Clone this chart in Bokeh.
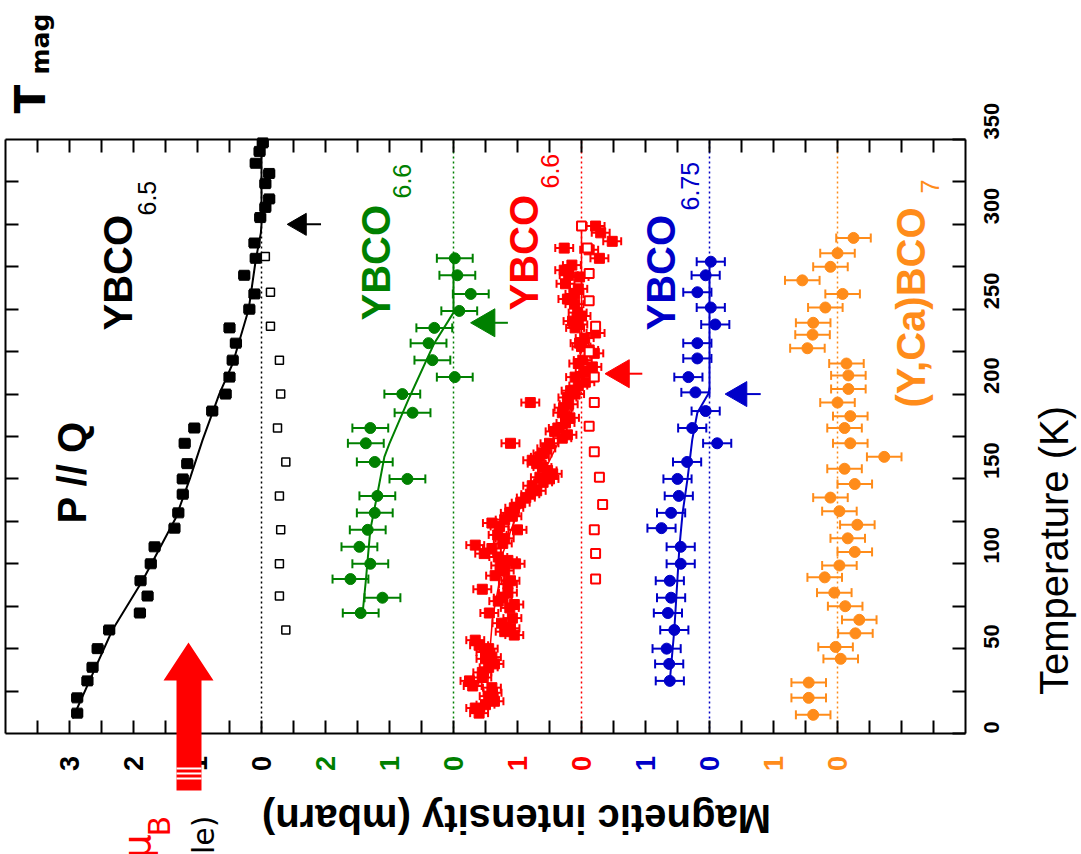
import numpy as np
from math import pi
from bokeh.plotting import figure
from bokeh.models import (Range1d, LinearAxis, FixedTicker, Label, PolyAnnotation)
from bokeh.core.properties import value
from bokeh.embed import file_html
from bokeh.resources import INLINE

# ---------------- data ----------------
# offsets (mbarn) of each data set's zero line
off_black, off_green, off_red, off_blue, off_orange = 0.0, -3.0, -5.0, -7.0, -9.0

# YBCO6.5 (black, filled squares)
b_T = [12, 21, 31, 39, 50, 61, 71, 81, 90, 100, 110, 121, 130, 141, 150, 159, 171, 180, 190, 200,
       210, 220, 230, 239, 250, 259, 270, 280, 289, 304, 310, 315, 324, 330, 336, 343, 348]
b_I = [2.88, 2.88, 2.72, 2.64, 2.56, 2.38, 1.90, 1.78, 1.89, 1.73, 1.67, 1.36, 1.30, 1.23, 1.23, 1.16,
       1.20, 1.05, 0.77, 0.56, 0.50, 0.45, 0.40, 0.50, 0.19, 0.11, 0.27, 0.09, 0.11, 0.02, -0.06, -0.12,
       -0.06, -0.12, 0.09, 0.03, -0.02]
b_err = 0.08
# YBCO6.5 open squares
bo_T = [61, 81, 100, 120, 140, 160, 180, 200, 220, 240, 260, 281]
bo_I = [-0.38, -0.28, -0.28, -0.30, -0.28, -0.38, -0.25, -0.30, -0.28, -0.14, -0.14, -0.06]
# YBCO6.5 fit
bf_T = [9, 35, 61, 90, 127, 150, 173, 200, 218, 250, 279, 295, 300, 350]
bf_I = [2.95, 2.64, 2.33, 1.86, 1.34, 1.12, 0.92, 0.66, 0.45, 0.20, 0.09, 0.01, 0.0, 0.0]

# YBCO6.6 (green)
g_T = [71, 80, 91, 100, 110, 120, 130, 140, 150, 160, 171, 180, 189, 200, 210, 220, 230, 239, 249, 259, 270, 280]
g_I = [1.45, 1.11, 1.61, 1.30, 1.47, 1.34, 1.23, 1.19, 0.72, 1.23, 1.37, 1.30, 0.64, 0.80, -0.02, 0.33,
       0.39, 0.30, -0.09, -0.27, -0.06, -0.02]
g_err = 0.28
gf_T = [71, 90, 120, 141, 163, 171, 198, 230, 248, 280]
gf_I = [1.42, 1.37, 1.30, 1.19, 1.08, 1.00, 0.69, 0.30, 0.0, 0.0]

# YBCO6.6 (red, filled squares)
r_T = [299, 295, 290, 286, 285, 280, 276, 273, 270, 269, 265, 262, 259, 256, 253, 248, 246, 243, 241, 239,
       236, 233, 230, 228, 226, 224, 220, 218, 216, 213, 210, 207, 205, 202, 200, 198, 195, 194, 192, 189,
       186, 183, 180, 178, 176, 174, 171, 171, 168, 165, 163, 161, 159, 157, 155, 153, 151, 150, 148, 146,
       143, 141, 139, 136, 133, 130, 128, 126, 124, 122, 120, 117, 115, 112, 111, 109, 106, 104, 102, 100,
       99, 96, 93, 90, 88, 85, 83, 80, 78, 76, 74, 71, 68, 65, 62, 60, 58, 55, 52, 50, 48, 45, 44, 41, 39,
       36, 33, 31, 28, 27, 24, 22, 19, 17, 15, 12]
r_I = [-0.22, -0.30, -0.48, 0.27, -0.12, -0.28, 0.15, 0.27, 0.20, 0.03, 0.25, 0.05, 0.11, 0.22, 0.11,
       0.06, 0.00, 0.14, 0.05, 0.10, -0.22, -0.05, 0.03, 0.00, -0.12, -0.20, -0.02, 0.05, -0.17, -0.05,
       0.10, -0.06, 0.05, 0.17, 0.10, 0.22, 0.80, 0.20, 0.28, 0.30, 0.18, 0.25, 0.37, 0.42, 0.22, 0.30,
       1.11, 0.50, 0.55, 0.61, 0.65, 0.77, 0.70, 0.61, 0.53, 0.45, 0.65, 0.50, 0.60, 0.77, 0.70, 0.80,
       0.87, 0.95, 1.05, 1.12, 1.08, 1.20, 1.40, 1.28, 1.00, 1.31, 1.20, 1.23, 1.66, 1.40, 1.52, 1.30,
       1.15, 1.03, 1.27, 1.20, 1.35, 1.11, 1.15, 1.55, 1.15, 1.23, 1.30, 1.05, 1.12, 1.44, 1.08, 1.25,
       1.11, 1.20, 1.05, 1.66, 1.60, 1.45, 1.50, 1.40, 1.50, 1.36, 1.45, 1.55, 1.55, 1.75, 1.70, 1.40,
       1.39, 1.45, 1.36, 1.50, 1.66, 1.60]
r_err = 0.14
# red open squares
ro_T = [91, 106, 120, 135, 151, 166, 181, 195, 210, 225, 240, 255, 271, 286, 299]
ro_I = [-0.22, -0.22, -0.20, -0.33, -0.28, -0.20, -0.12, -0.20, -0.20, -0.12, -0.22, -0.12, -0.12, -0.09, 0.0]
rf_T = [15, 40, 68, 90, 106, 120, 130, 143, 157, 170, 189, 210, 230, 300]
rf_I = [1.48, 1.45, 1.39, 1.28, 1.23, 1.10, 1.00, 0.80, 0.55, 0.38, 0.19, 0.05, 0.0, 0.0]

# YBCO6.75 (blue)
u_T = [31, 41, 50, 61, 71, 80, 90, 100, 110, 121, 130, 140, 150, 160, 171, 180, 190, 201, 210, 221,
       230, 241, 251, 260, 270, 278]
u_I = [0.62, 0.63, 0.67, 0.55, 0.65, 0.60, 0.62, 0.45, 0.45, 0.75, 0.60, 0.48, 0.50, 0.35, -0.12, 0.27,
       0.06, 0.22, 0.33, 0.19, 0.19, -0.09, -0.02, 0.19, 0.06, -0.02]
u_err = 0.22
uf_T = [31, 61, 110, 130, 151, 173, 189, 200, 203, 280]
uf_I = [0.62, 0.55, 0.47, 0.42, 0.34, 0.27, 0.19, 0.02, 0.0, 0.0]

# (Y,Ca)BCO7 (orange)
o_T = [11, 21, 30, 44, 51, 59, 67, 75, 83, 92, 99, 107, 115, 123, 131, 139, 147, 156, 163, 171, 180,
       187, 195, 203, 211, 218, 227, 235, 242, 251, 259, 267, 275, 283, 292]
o_I = [0.38, 0.45, 0.45, -0.05, 0.03, -0.28, -0.34, -0.12, 0.05, 0.20, -0.03, -0.27, -0.16, -0.31,
       -0.03, 0.11, -0.27, -0.11, -0.73, -0.20, -0.11, -0.20, 0.00, -0.17, -0.17, -0.14, 0.47, 0.39,
       0.38, 0.19, -0.08, 0.55, 0.11, 0.00, -0.25]
o_err = 0.27

# T_mag markers (black, green, red, blue)
tm_T = [300, 242, 212, 200]
tm_I = [-0.60, -0.52, -0.62, -0.47]
tm_off = [off_black, off_green, off_red, off_blue]

# axis ticks / labels
T_ticks = [0, 50, 100, 150, 200, 250, 300, 350]
T_minor = [25, 75, 125, 175, 225, 275, 325]
tick_pos = [3, 2, 1, 0, -1, -2, -3, -4, -5, -6, -7, -8, -9]
tick_txt = ["3", "2", "1", "0", "2", "1", "0", "1", "0", "1", "0", "1", "0"]

BLACK, GREEN, RED, BLUE, ORANGE = "#000000", "#008000", "#ff0000", "#0000c8", "#ff8c1a"
tick_col = [BLACK] * 4 + [GREEN] * 3 + [RED] * 2 + [BLUE] * 2 + [ORANGE] * 2

# ---------------- figure ----------------
W, H = 1081, 854
FL, FR, FT, FB = 5, 965, 139, 733          # frame box in page pixels
XMAX, XMIN = 4.0, -11.0                    # intensity axis (reversed)
TMIN, TMAX = 0.0, 350.0


def X(px):
    return XMAX - (px - FL) * (XMAX - XMIN) / (FR - FL)


def Y(py):
    return (FB - py) * (TMAX - TMIN) / (FB - FT)


p = figure(width=W, height=H, output_backend="svg", toolbar_location=None,
           x_range=Range1d(X(0), X(W)), y_range=Range1d(Y(H), Y(0)),
           min_border=0, min_border_left=0, min_border_right=0, min_border_top=0, min_border_bottom=0,
           x_axis_location=None, y_axis_location=None)
p.grid.visible = False
p.outline_line_color = None
p.background_fill_color = "white"
p.border_fill_color = "white"


def frame_axis(side, ticker, fixed, bounds):
    ax = LinearAxis(ticker=ticker, fixed_location=fixed, bounds=bounds,
                    axis_line_color="black", axis_line_width=2,
                    major_tick_in=13, major_tick_out=0, major_tick_line_width=2,
                    minor_tick_in=13, minor_tick_out=0, minor_tick_line_width=2)
    p.add_layout(ax, side)
    return ax


x_minor = list(np.arange(-10.5, 4.0, 0.5))
frame_axis("below", FixedTicker(ticks=[], minor_ticks=x_minor), TMIN, (XMIN, XMAX))
frame_axis("above", FixedTicker(ticks=[], minor_ticks=x_minor), TMAX, (XMIN, XMAX))
frame_axis("left", FixedTicker(ticks=[], minor_ticks=T_ticks[1:-1] + T_minor), XMAX, (TMIN, TMAX))
rax = frame_axis("right", FixedTicker(ticks=T_ticks, minor_ticks=T_minor), XMIN, (TMIN, TMAX))
rax.major_label_orientation = pi / 2
rax.major_label_standoff = 26
rax.major_label_text_font = "Liberation Sans"
rax.major_label_text_font_style = "bold"
rax.major_label_text_font_size = "22px"
rax.major_label_text_color = "black"

# zero lines
for off, col in [(off_black, BLACK), (off_green, GREEN), (off_red, RED), (off_blue, BLUE), (off_orange, ORANGE)]:
    p.segment(x0=[off], x1=[off], y0=[TMIN], y1=[TMAX], line_color=col, line_width=1.5, line_dash="2 3")


def shift(vals, off):
    return [v + off for v in vals]


def errbars(T, I, off, err, col, cap=9):
    x = np.array(shift(I, off))
    p.segment(x0=x - err, x1=x + err, y0=T, y1=T, line_color=col, line_width=2)
    p.scatter(x=list(x - err) + list(x + err), y=list(T) + list(T), marker="dash", angle=pi / 2,
              size=cap, line_color=col, line_width=2)


# fits
p.line(shift(bf_I, off_black), bf_T, line_color=BLACK, line_width=2)
p.line(shift(gf_I, off_green), gf_T, line_color=GREEN, line_width=2)
p.line(shift(rf_I, off_red), rf_T, line_color=RED, line_width=1.5)
p.line(shift(uf_I, off_blue), uf_T, line_color=BLUE, line_width=2)

# black
errbars(b_T, b_I, off_black, b_err, BLACK, cap=8)
p.scatter(shift(b_I, off_black), b_T, marker="square", size=10, color=BLACK)
errbars(bo_T, bo_I, off_black, 0.05, BLACK, cap=6)
p.scatter(shift(bo_I, off_black), bo_T, marker="square", size=8, line_color=BLACK, fill_color="white", line_width=1.5)
# green
errbars(g_T, g_I, off_green, g_err, GREEN)
p.scatter(shift(g_I, off_green), g_T, marker="circle", size=11, color=GREEN)
# red
errbars(r_T, r_I, off_red, r_err, RED, cap=8)
p.scatter(shift(r_I, off_red), r_T, marker="square", size=10, color=RED)
p.scatter(shift(ro_I, off_red), ro_T, marker="square", size=9, line_color=RED, fill_color="white", line_width=2)
# blue
errbars(u_T, u_I, off_blue, u_err, BLUE)
p.scatter(shift(u_I, off_blue), u_T, marker="circle", size=11, color=BLUE)
# orange
errbars(o_T, o_I, off_orange, o_err, ORANGE)
p.scatter(shift(o_I, off_orange), o_T, marker="circle", size=11, color=ORANGE)

# T_mag markers
tm_x = np.array([i + o for i, o in zip(tm_I, tm_off)])
tm_cols = [BLACK, GREEN, RED, BLUE]
tm_sizes = [22, 28, 28, 25]
p.segment(x0=tm_x, x1=tm_x - 0.33, y0=tm_T, y1=tm_T, line_color=tm_cols, line_width=2)
p.scatter(tm_x, tm_T, marker="triangle", angle=pi / 2, size=tm_sizes, color=tm_cols)

# intensity tick labels (coloured per data set)
p.text(x=tick_pos, y=[Y(763)] * len(tick_pos), text=tick_txt, text_color=tick_col, angle=pi / 2,
       text_align="center", text_baseline="middle", text_font=value("Liberation Sans"),
       text_font_style="bold", text_font_size="27px")


def lab(text, xp, yp, size, col, angle=pi / 2, align="left", baseline="alphabetic",
        style="bold", font="Liberation Sans"):
    # xp: wanted baseline position in page pixels (empirical shift for rotated text)
    dx = -0.42 * size if baseline == "alphabetic" else 0
    p.add_layout(Label(x=X(xp + dx), y=Y(yp), text=text, angle=angle, text_align=align,
                       text_baseline=baseline, text_font=font, text_font_style=style,
                       text_font_size=f"{size}px", text_color=col))


lab("Magnetic intensity (mbarn)", 516, 818, 40, BLACK, angle=pi, align="center", baseline="middle")
lab("Temperature (K)", 1053, 550, 40, BLACK, align="center", baseline="middle", style="normal")

lab("P // Q", 88, 523, 40, BLACK)
lab("YBCO", 134, 330, 40, BLACK)
lab("6.5", 157, 215, 25, BLACK, style="normal")
lab("YBCO", 392, 320, 40, GREEN)
lab("6.6", 412, 198, 25, GREEN, style="normal")
lab("YBCO", 540, 310, 40, RED)
lab("6.6", 560, 188, 25, RED, style="normal")
lab("YBCO", 677, 330, 40, BLUE)
lab("6.75", 700, 210, 25, BLUE, style="normal")
lab("(Y,Ca)BCO", 927, 407, 40, ORANGE)
lab("7", 940, 193, 25, ORANGE, style="normal")

# decorations outside the frame
lab("T", 48, 113, 42, BLACK, font="DejaVu Sans")
lab("mag", 50, 74, 25, BLACK, font="DejaVu Sans")
lab("\u03bc", 152, 858, 38, RED, font="DejaVu Sans", style="normal")
lab("B", 172, 836, 30, RED, font="DejaVu Sans", style="normal")
lab("le)", 216, 815, 30, BLACK, align="right", font="DejaVu Sans", style="normal")

# red arrow
arrow_px = [(188, 642), (213, 680), (201, 680), (201, 790), (176, 790), (176, 680), (163, 680)]
p.add_layout(PolyAnnotation(xs=[X(a) for a, b in arrow_px], ys=[Y(b) for a, b in arrow_px],
                            fill_color=RED, fill_alpha=1, line_color=None, level="overlay"))
for y0 in (767, 772, 777):
    box = [(176, y0), (201, y0), (201, y0 + 2), (176, y0 + 2)]
    p.add_layout(PolyAnnotation(xs=[X(a) for a, b in box], ys=[Y(b) for a, b in box],
                                fill_color="white", fill_alpha=1, line_color=None, level="overlay"))

open("out.html", "w").write(file_html(p, INLINE))
